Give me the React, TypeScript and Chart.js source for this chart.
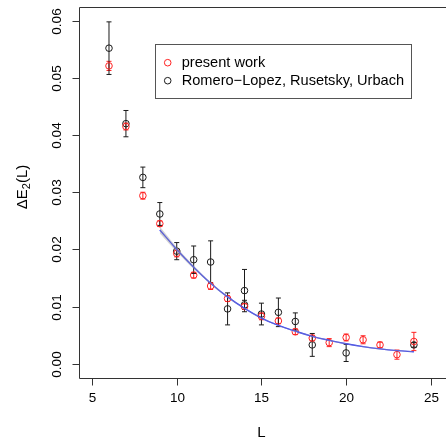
import React, { useEffect, useRef } from "react";
import { Chart, registerables } from "chart.js";

Chart.register(...registerables);

// ---- data ----
const L_PRESENT = [6, 7, 8, 9, 10, 11, 12, 13, 14, 15, 16, 17, 18, 19, 20, 21, 22, 23, 24];
const DE_PRESENT = [0.0521, 0.0415, 0.0294, 0.0245, 0.0193, 0.0155, 0.0136, 0.0114, 0.0100, 0.0083, 0.0075, 0.0056, 0.0045, 0.0037, 0.0046, 0.0042, 0.0033, 0.0016, 0.0039];
const ERR_PRESENT = [0.0008, 0.0006, 0.0006, 0.0005, 0.0006, 0.0005, 0.0006, 0.0005, 0.0005, 0.0006, 0.0005, 0.0005, 0.0005, 0.0007, 0.0006, 0.0007, 0.0005, 0.0008, 0.0016];

const L_RLRU = [6, 7, 8, 9, 10, 11, 12, 13, 14, 14, 15, 16, 17, 18, 20, 24];
const DE_RLRU = [0.0552, 0.0420, 0.0326, 0.0262, 0.0197, 0.0182, 0.0178, 0.0096, 0.0128, 0.0103, 0.0087, 0.0090, 0.0074, 0.0033, 0.0019, 0.0033];
const ERR_RLRU = [0.0046, 0.0023, 0.0018, 0.0020, 0.0015, 0.0024, 0.0037, 0.0028, 0.0037, 0.0008, 0.0019, 0.0025, 0.0015, 0.0020, 0.0015, 0.0004];

const L_FIT = [9, 10, 11, 12, 13, 14, 15, 16, 17, 18, 19, 20, 21, 22, 23, 24];
const DE_FIT = [0.0234, 0.0200, 0.0169, 0.0141, 0.0117, 0.0097, 0.0080, 0.0067, 0.0057, 0.0048, 0.0041, 0.0035, 0.0030, 0.0026, 0.0023, 0.0021];
const BAND_FIT = [0.0006, 0.0004, 0.0003, 0.0002, 0.00015, 0.0001, 0.0001, 0.0001, 0.0001, 0.0001, 0.0001, 0.0001, 0.0001, 0.0001, 0.0001, 0.0001];

const X_TICKS = [5, 10, 15, 20, 25];
const Y_TICKS = [0, 0.01, 0.02, 0.03, 0.04, 0.05, 0.06];
const Y_TICK_LABELS = ["0.00", "0.01", "0.02", "0.03", "0.04", "0.05", "0.06"];

const LABEL_PRESENT = "present work";
const LABEL_RLRU = "Romero\u2212Lopez, Rusetsky, Urbach";

const RED = "#ff2020";
const BLACK = "#1a1a1a";
const BLUE = "#2b35ff";

const errorBarPlugin = {
  id: "errbars",
  beforeDatasetsDraw(chart: any) {
    const ctx = chart.ctx;
    const xs = chart.scales.x;
    const ys = chart.scales.y;
    chart.data.datasets.forEach((ds: any) => {
      if (!ds.errors) return;
      ctx.save();
      ctx.strokeStyle = ds.borderColor;
      ctx.lineWidth = 1;
      ds.data.forEach((p: any, i: number) => {
        const e = ds.errors[i];
        const x = xs.getPixelForValue(p.x);
        const y1 = ys.getPixelForValue(p.y + e);
        const y2 = ys.getPixelForValue(p.y - e);
        const cw = 2.5;
        ctx.beginPath();
        ctx.moveTo(x, y1);
        ctx.lineTo(x, y2);
        ctx.moveTo(x - cw, y1);
        ctx.lineTo(x + cw, y1);
        ctx.moveTo(x - cw, y2);
        ctx.lineTo(x + cw, y2);
        ctx.stroke();
      });
      ctx.restore();
    });
  },
};

const axesPlugin = {
  id: "raxes",
  afterDraw(chart: any) {
    const ctx = chart.ctx;
    const ca = chart.chartArea;
    const xs = chart.scales.x;
    const ys = chart.scales.y;
    ctx.save();
    ctx.strokeStyle = "#333";
    ctx.lineWidth = 1;
    const L = Math.round(ca.left) + 0.5;
    const T = Math.round(ca.top) + 0.5;
    const B = Math.round(ca.bottom) + 0.5;
    ctx.beginPath();
    ctx.moveTo(chart.width + 2, T);
    ctx.lineTo(L, T);
    ctx.lineTo(L, B);
    ctx.lineTo(chart.width + 2, B);
    ctx.stroke();

    ctx.fillStyle = "#000";
    // x ticks
    X_TICKS.forEach((v) => {
      const x = Math.round(xs.getPixelForValue(v)) + 0.5;
      ctx.beginPath();
      ctx.moveTo(x, B);
      ctx.lineTo(x, B + 7);
      ctx.stroke();
      ctx.font = "13.5px Arial, sans-serif";
      ctx.textAlign = "center";
      ctx.textBaseline = "middle";
      ctx.fillText(String(v), x, 398);
    });
    // y ticks
    Y_TICKS.forEach((v, i) => {
      const y = Math.round(ys.getPixelForValue(v)) + 0.5;
      ctx.beginPath();
      ctx.moveTo(L - 7, y);
      ctx.lineTo(L, y);
      ctx.stroke();
      ctx.save();
      ctx.translate(57, y);
      ctx.rotate(-Math.PI / 2);
      ctx.font = "13.5px Arial, sans-serif";
      ctx.textAlign = "center";
      ctx.textBaseline = "middle";
      ctx.fillText(Y_TICK_LABELS[i], 0, 0);
      ctx.restore();
    });

    // axis titles
    ctx.fillStyle = "#000";
    ctx.font = "15px Arial, sans-serif";
    ctx.textAlign = "center";
    ctx.textBaseline = "middle";
    ctx.fillText("L", (ca.left + xs.getPixelForValue(25.8)) / 2, 433);

    ctx.save();
    ctx.translate(22.5, 187);
    ctx.rotate(-Math.PI / 2);
    ctx.textBaseline = "middle";
    const p1 = "\u0394E";
    const p2 = "2";
    const p3 = "(L)";
    ctx.font = "15px Arial, sans-serif";
    const w1 = ctx.measureText(p1).width;
    const w3 = ctx.measureText(p3).width;
    ctx.font = "11px Arial, sans-serif";
    const w2 = ctx.measureText(p2).width;
    const tot = w1 + w2 + w3;
    const x0 = -tot / 2;
    ctx.textAlign = "left";
    ctx.font = "15px Arial, sans-serif";
    ctx.fillText(p1, x0, 0);
    ctx.font = "11px Arial, sans-serif";
    ctx.fillText(p2, x0 + w1, 4);
    ctx.font = "15px Arial, sans-serif";
    ctx.fillText(p3, x0 + w1 + w2, 0);
    ctx.restore();

    // legend
    const bx = 155.5, by = 44.5, bw = 256, bh = 54;
    ctx.strokeStyle = "#555";
    ctx.strokeRect(bx, by, bw, bh);
    const items = [chart.data.datasets[3], chart.data.datasets[4]];
    const rows = [62.7, 80.7];
    items.forEach((ds: any, i: number) => {
      ctx.beginPath();
      ctx.strokeStyle = ds.borderColor;
      ctx.arc(167.7, rows[i], 3.3, 0, Math.PI * 2);
      ctx.stroke();
      ctx.fillStyle = "#000";
      ctx.font = "14.6px Arial, sans-serif";
      ctx.textAlign = "left";
      ctx.textBaseline = "middle";
      ctx.fillText(ds.label, 181.7, rows[i] + 0.5);
    });
    ctx.restore();
  },
};

export default function App() {
  const ref = useRef<HTMLCanvasElement | null>(null);
  useEffect(() => {
    if (!ref.current) return;
    const chart = new Chart(ref.current, {
      type: "scatter",
      data: {
        datasets: [
          {
            label: "band-upper",
            data: L_FIT.map((x, i) => ({ x, y: DE_FIT[i] + BAND_FIT[i] })),
            showLine: true,
            borderWidth: 0,
            borderColor: "rgba(0,0,0,0)",
            pointRadius: 0,
            tension: 0.4,
            fill: false,
          } as any,
          {
            label: "band-lower",
            data: L_FIT.map((x, i) => ({ x, y: DE_FIT[i] - BAND_FIT[i] })),
            showLine: true,
            borderWidth: 0,
            borderColor: "rgba(0,0,0,0)",
            backgroundColor: "rgba(160,160,160,0.45)",
            pointRadius: 0,
            tension: 0.4,
            fill: "-1",
          } as any,
          {
            label: "fit",
            data: L_FIT.map((x, i) => ({ x, y: DE_FIT[i] })),
            showLine: true,
            borderColor: BLUE,
            borderWidth: 1.4,
            pointRadius: 0,
            tension: 0.4,
          } as any,
          {
            label: LABEL_PRESENT,
            data: L_PRESENT.map((x, i) => ({ x, y: DE_PRESENT[i] })),
            errors: ERR_PRESENT,
            borderColor: RED,
            backgroundColor: "rgba(0,0,0,0)",
            pointRadius: 3.3,
            borderWidth: 1,
            showLine: false,
          } as any,
          {
            label: LABEL_RLRU,
            data: L_RLRU.map((x, i) => ({ x, y: DE_RLRU[i] })),
            errors: ERR_RLRU,
            borderColor: BLACK,
            backgroundColor: "rgba(0,0,0,0)",
            pointRadius: 3.3,
            borderWidth: 1,
            showLine: false,
          } as any,
        ],
      },
      options: {
        animation: false,
        responsive: false,
        maintainAspectRatio: false,
        devicePixelRatio: 1,
        layout: { padding: { left: 78.5, right: 0, top: 7, bottom: 62.5 } },
        plugins: { legend: { display: false }, tooltip: { enabled: false } },
        events: [],
        scales: {
          x: { type: "linear", min: 4.2, max: 25.6, display: false },
          y: { type: "linear", min: -0.0024, max: 0.0624, display: false },
        },
      } as any,
      plugins: [errorBarPlugin, axesPlugin],
    });
    return () => chart.destroy();
  }, []);
  return (
    <div style={{ position: "fixed", left: 0, top: 0, width: 446, height: 440, background: "#fff" }}>
      <canvas ref={ref} width={446} height={440} style={{ width: 446, height: 440, display: "block" }} />
    </div>
  );
}
